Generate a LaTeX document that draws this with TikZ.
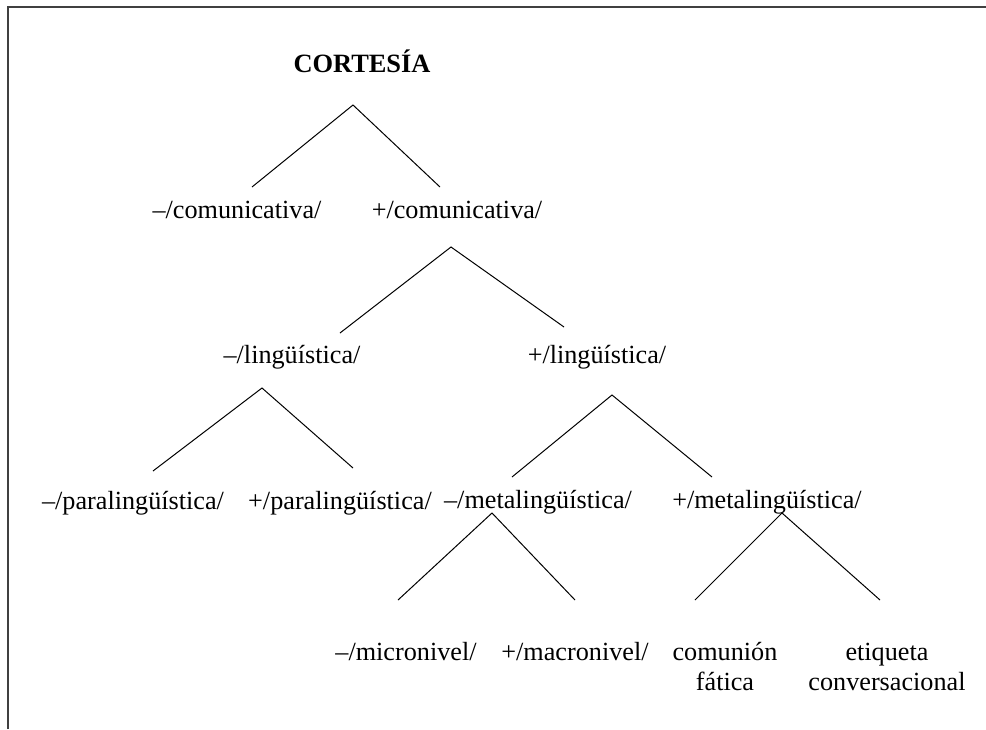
\documentclass[tikz,border=0pt]{standalone}
\usepackage{fontspec}
\setmainfont{Liberation Serif}
\usepackage{tikz}

\tikzset{
  lbl/.style={anchor=base, inner sep=0pt, align=center, font=\fontsize{13.1}{15}\selectfont},
  branch/.style={black, line width=0.5pt}
}

\begin{document}
\begin{tikzpicture}[x=0.5pt,y=-0.5pt]
       \useasboundingbox (0,0) rectangle (986,729);
       % frame
       \draw[black!75, line width=0.9pt] (8,729) -- (8,7) -- (986,7);

       % labels
       \node[lbl, font=\fontsize{13.2}{15}\bfseries] (cortesia) at (362,72) {CORTESÍA};
       \node[lbl] (mcom) at (237,218) {–/comunicativa/};
       \node[lbl] (pcom) at (457,218) {+/comunicativa/};
       \node[lbl] (mling) at (292,363) {–/lingüística/};
       \node[lbl] (pling) at (597,363) {+/lingüística/};
       \node[lbl] (mpara) at (133,509) {–/paralingüística/};
       \node[lbl] (ppara) at (340,509) {+/paralingüística/};
       \node[lbl] (mmeta) at (538,508) {–/metalingüística/};
       \node[lbl] (pmeta) at (767,508) {+/metalingüística/};
       \node[lbl] (mmicro) at (406,660) {–/micronivel/};
       \node[lbl] (pmacro) at (575,660) {+/macronivel/};
       \node[lbl] (fatica) at (725,690) {comunión\\fática};
       \node[lbl] (etiqueta) at (887,690) {etiqueta\\conversacional};

       % branching points
       \coordinate (a1) at (353,105); \coordinate (l1) at (252,187); \coordinate (r1) at (440,187);
       \coordinate (a2) at (451,247); \coordinate (l2) at (340,333); \coordinate (r2) at (564,327);
       \coordinate (a3) at (262,388); \coordinate (l3) at (153,471); \coordinate (r3) at (353,468);
       \coordinate (a4) at (612,395); \coordinate (l4) at (512,477); \coordinate (r4) at (712,477);
       \coordinate (a5) at (492,513); \coordinate (l5) at (398,600); \coordinate (r5) at (575,600);
       \coordinate (a6) at (782,513); \coordinate (l6) at (695,600); \coordinate (r6) at (880,600);

       \foreach \k in {1,...,6}
         \draw[branch] (l\k) -- (a\k) -- (r\k);
\end{tikzpicture}
\end{document}
